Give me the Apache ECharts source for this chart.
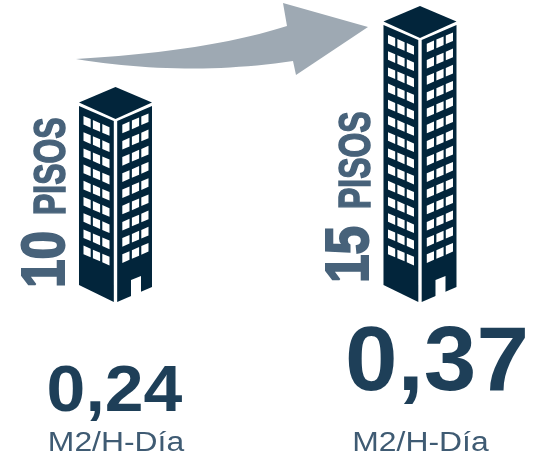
<!DOCTYPE html>
<html><head><meta charset="utf-8">
<style>html,body{margin:0;padding:0;background:#fff}#c{width:536px;height:458px}</style>
<script src="https://cdn.jsdelivr.net/npm/echarts@6/dist/echarts.min.js"></script></head>
<body><div id="c"></div>
<script>
const categories = [0, 1];
const floors = [10, 15];
const floorWord = 'PISOS';
const rates = ['0,24', '0,37'];
const rateUnit = 'M2/H-Día';

const DARK = '#02253b', SLATE = '#47627a', NAVY = '#1e3f58', UNIT = '#3f5b73', ARROW = '#9ea9b3';
const rateStyle = [{dx: -1, y: 416, size: 64, sx: 1.09}, {dx: 17, y: 397, size: 90, sx: 1.05}];
const floorTextStyle = [{num: -14, word: -87}, {num: -19, word: -93}];

const poly = (points, fill) => ({type: 'polygon', shape: {points}, style: {fill}});
const quad = (a, c, b, n) => {
  const out = [];
  for (let i = 0; i <= n; i++) {
    const t = i / n, u = 1 - t;
    out.push([u*u*a[0] + 2*u*t*c[0] + t*t*b[0], u*u*a[1] + 2*u*t*c[1] + t*t*b[1]]);
  }
  return out;
};
const baseText = (text, x, y, font, size, fill, extra, styleExtra) => Object.assign({
  type: 'text', x, y,
  style: Object.assign({text, x: 0, y: -0.35 * size, fill, font: `${font.replace('%', size + 'px')}`,
    textAlign: 'left', textVerticalAlign: 'middle'}, styleExtra || {})
}, extra || {});

function tower(params, api) {
  const i = api.value(0), f = api.value(1);
  const [c, eave] = api.coord([i, f]);
  const ground = api.coord([i, 0])[1];
  const foot = ground + 19;
  const W = 36.5, G = 1.7, S = 0.43, ch = [];
  ch.push(poly([[c, eave - 34], [c - W, eave - 18.5], [c, eave - 2], [c + W, eave - 18.5]], DARK));
  ch.push(poly([[c - W, eave - 15], [c - G, eave], [c - G, foot], [c - W, foot - 17]], DARK));
  ch.push(poly([[c + G, eave], [c + W, eave - 15], [c + W, foot - 15], [c + G, foot]], DARK));
  const rows = f - 1;
  const L = [-32, -22.6, -13.2], R = [6.8, 16.4, 25.8], w = 7.2, h = 8.6;
  for (let r = 0; r < rows; r++) {
    const y0 = api.coord([i, r + 2.3])[1];
    L.forEach(dx => {
      const x = c + dx, t = y0 + (dx + 31.7) * S;
      ch.push(poly([[x, t], [x + w, t + w * S], [x + w, t + w * S + h], [x, t + h]], '#fff'));
    });
    R.forEach(dx => {
      const x = c + dx, t = y0 + 0.5 + (32.7 - dx - w) * S;
      ch.push(poly([[x, t], [x + w, t - w * S], [x + w, t - w * S + h], [x, t + h]], '#fff'));
    });
  }
  ch.push(poly([[c + 15.5, foot], [c + 15.5, foot - 22], [c + 25.5, foot - 26], [c + 25.5, foot]], '#fff'));
  return {type: 'group', children: ch};
}

function floorLabels(params, api) {
  const i = api.value(0), f = api.value(1);
  const c = api.coord([i, f])[0];
  const g = api.coord([i, 0])[1] + 19;
  const st = floorTextStyle[i];
  const font = 'bold % "Liberation Sans Narrow","Liberation Sans"';
  const t = (text, y, size, sx, lw) => baseText(text, c - 47, y, font, size, SLATE,
    {rotation: Math.PI / 2, scaleX: sx}, {stroke: SLATE, lineWidth: lw});
  return {type: 'group', children: [
    t(String(f), g + st.num, 62, 0.83, 2),
    t(floorWord, g + st.word, 45, 0.71, 1.5)
  ]};
}

function rateLabels(params, api) {
  const i = api.value(0);
  const c = api.coord([i, floors[i]])[0];
  const s = rateStyle[i];
  return {type: 'group', children: [
    baseText(rates[i], c + s.dx, s.y, 'bold % "Liberation Sans"', s.size, NAVY, {scaleX: s.sx}, {textAlign: 'center'}),
    baseText(rateUnit, c + 0.5, 452.5, '% "Liberation Sans"', 27, UNIT, {scaleX: 1.18}, {textAlign: 'center'})
  ]};
}

function arrow(params, api) {
  const [a] = api.coord([0, floors[0]]);
  const [b, e] = api.coord([1, floors[1]]);
  const P = (x, y) => [a + x, e + y];
  const top = quad(P(-39.5, 19), P(92.5, 11.5), P(171.5, -14), 24);
  const low = quad(P(177.5, 21), P(69.5, 37), P(-39.5, 19), 24);
  return poly([...top, P(167.5, -37), P(252.5, -13), P(180.5, 35), ...low], ARROW);
}

const towerData = categories.map((c, i) => [c, floors[i]]);
const chart = echarts.init(document.getElementById('c'), null, {renderer: 'canvas'});
chart.setOption({
  animation: false,
  backgroundColor: '#fff',
  grid: {left: 0, right: 0, top: 0, bottom: 0},
  xAxis: {type: 'value', min: -0.3793, max: 1.381, show: false},
  yAxis: {type: 'value', min: -10.802, max: 17.469, show: false},
  series: [
    {type: 'custom', renderItem: arrow, data: [[0, floors[0]]], silent: true, clip: false},
    {type: 'custom', renderItem: tower, data: towerData, silent: true, clip: false},
    {type: 'custom', renderItem: floorLabels, data: towerData, silent: true, clip: false},
    {type: 'custom', renderItem: rateLabels, data: towerData, silent: true, clip: false}
  ]
});
</script></body></html>
